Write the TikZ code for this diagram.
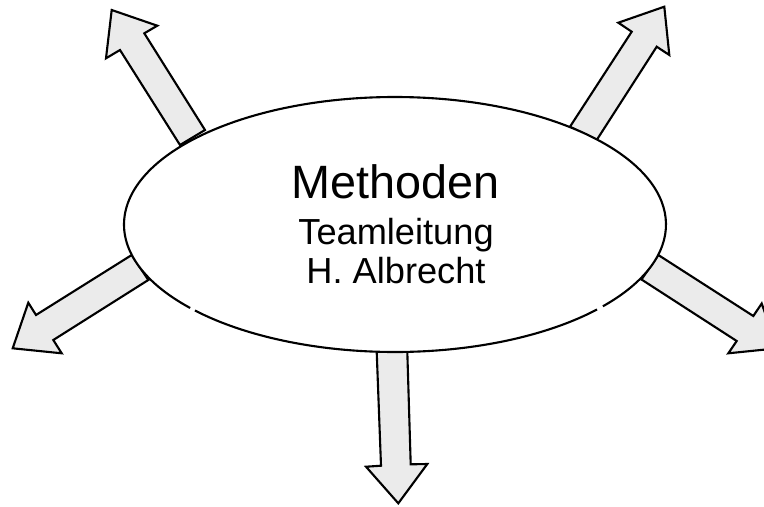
\documentclass[tikz,border=0pt]{standalone}
\usepackage{fontspec}
\setmainfont{Liberation Sans}
\usetikzlibrary{shapes.geometric}

\tikzstyle{bigarrow}=[draw, fill=black!8, line width=0.6pt]
\tikzstyle{oval}=[ellipse, fill=white, minimum width=5.42cm, minimum height=2.55cm, inner sep=0pt]
\tikzstyle{rim}=[draw, line width=0.6pt]
\tikzstyle{title}=[anchor=base, font=\fontsize{13.3}{16}\selectfont]
\tikzstyle{subtitle}=[anchor=base, font=\fontsize{10.3}{12}\selectfont]

\begin{document}
\begin{tikzpicture}[x=0.01cm, y=-0.01cm]
\useasboundingbox (0,0) rectangle (764,506);
\clip (0,0) rectangle (764,506);

\draw[bigarrow] (180,145) -- (120,50) -- (106,58.3) -- (111.7,10) -- (157.3,25.7) -- (144.3,33.3) -- (205,130) -- cycle;
\draw[bigarrow] (570,126.7) -- (631.7,31.7) -- (618.3,22.7) -- (664.3,6.7) -- (669.3,55) -- (656.7,46.7) -- (596.7,140) -- cycle;
\draw[bigarrow] (131.7,255) -- (36,315) -- (28.3,302.7) -- (12.7,348.3) -- (61.7,353.3) -- (53.3,340) -- (148.3,280) -- cycle;
\draw[bigarrow] (658.3,255) -- (753.3,316) -- (761.7,303.5) -- (777.3,348.3) -- (728.3,353.3) -- (736.7,341) -- (641.5,279.5) -- cycle;
\draw[bigarrow] (376.7,351.7) -- (381,465.7) -- (366,466.7) -- (398.3,503.3) -- (427.3,464) -- (410.7,464.3) -- (407.3,351.7) -- cycle;

\node[oval] (meth) at (395,224.5) {};
\draw[rim] (meth.center) ++(41.8:271 and 127.5) arc[start angle=41.8, end angle=137.6, x radius=271, y radius=127.5];
\draw[rim] (meth.center) ++(139.1:271 and 127.5) arc[start angle=139.1, end angle=399.9, x radius=271, y radius=127.5];

\node[title] (head) at (396,198) {Methoden};
\node[subtitle] (role) at (396,244) {Teamleitung};
\node[subtitle] (lead) at (396,283) {H. Albrecht};
\end{tikzpicture}
\end{document}
